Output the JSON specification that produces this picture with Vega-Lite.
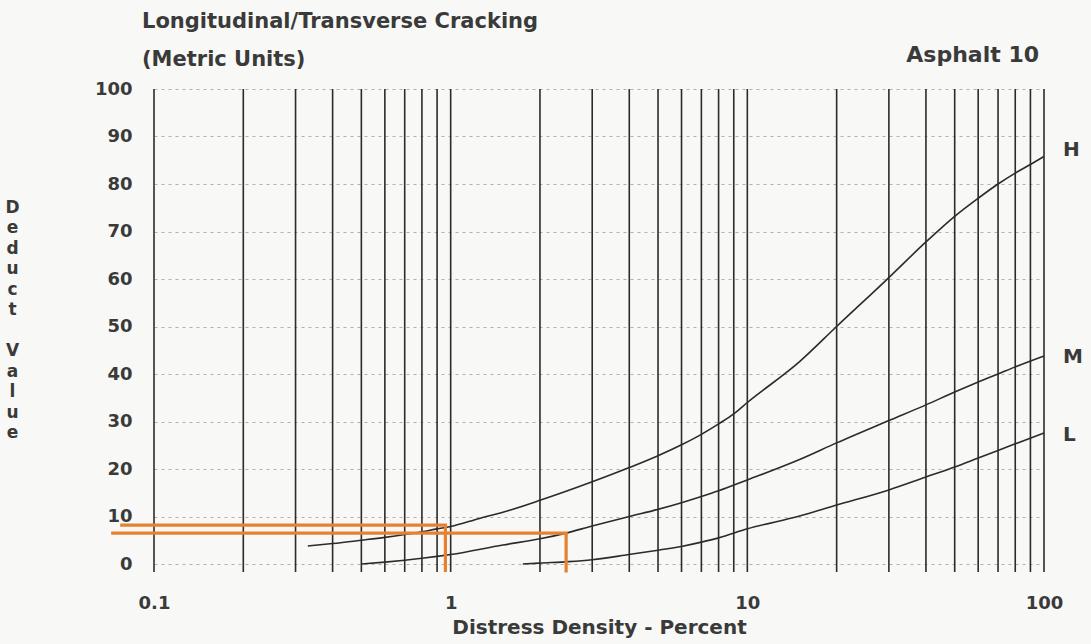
{
  "$schema": "https://vega.github.io/schema/vega-lite/v6.json",
  "width": 890,
  "height": 475,
  "autosize": {"type": "none"},
  "padding": {"left": 154, "top": 89, "right": 47, "bottom": 80},
  "background": "#f8f8f6",
  "config": {
    "view": {"stroke": null},
    "font": "DejaVu Sans",
    "axisX": {
      "grid": false,
      "domain": false,
      "ticks": false,
      "labelFont": "DejaVu Sans",
      "labelFontWeight": "bold",
      "labelFontSize": 18,
      "labelColor": "#3a3a3a",
      "labelPadding": 30,
      "labelFlush": false,
      "titleFont": "DejaVu Sans",
      "titleFontWeight": "bold",
      "titleFontSize": 20,
      "titleColor": "#3a3a3a",
      "titlePadding": 5
    },
    "axisY": {
      "grid": true,
      "gridDash": [3, 4],
      "gridColor": "#9a9a9a",
      "gridWidth": 1.2,
      "gridOpacity": 0.75,
      "domain": false,
      "ticks": false,
      "labelFont": "DejaVu Sans",
      "labelFontWeight": "bold",
      "labelFontSize": 18,
      "labelColor": "#3a3a3a",
      "labelPadding": 22,
      "titleAngle": 0,
      "titleX": -142,
      "titleY": 118,
      "titleAlign": "center",
      "titleBaseline": "middle",
      "titleLineHeight": 20.5,
      "titleFont": "DejaVu Sans",
      "titleFontWeight": "bold",
      "titleFontSize": 17,
      "titleColor": "#3a3a3a"
    }
  },
  "datasets": {
    "vlines": [
      {"x": 0.1}, {"x": 0.2}, {"x": 0.3}, {"x": 0.4}, {"x": 0.5}, {"x": 0.6}, {"x": 0.7}, {"x": 0.8}, {"x": 0.9},
      {"x": 1}, {"x": 2}, {"x": 3}, {"x": 4}, {"x": 5}, {"x": 6}, {"x": 7}, {"x": 8}, {"x": 9},
      {"x": 10}, {"x": 20}, {"x": 30}, {"x": 40}, {"x": 50}, {"x": 60}, {"x": 70}, {"x": 80}, {"x": 90},
      {"x": 100}
    ],
    "curves": [
      {"s": "H", "x": 0.33, "y": 3.8}, {"s": "H", "x": 0.4, "y": 4.3}, {"s": "H", "x": 0.5, "y": 5.0},
      {"s": "H", "x": 0.6, "y": 5.6}, {"s": "H", "x": 0.7, "y": 6.2}, {"s": "H", "x": 0.8, "y": 6.8},
      {"s": "H", "x": 0.9, "y": 7.4}, {"s": "H", "x": 1, "y": 7.9}, {"s": "H", "x": 1.25, "y": 9.6},
      {"s": "H", "x": 1.5, "y": 10.9}, {"s": "H", "x": 2, "y": 13.4}, {"s": "H", "x": 3, "y": 17.3},
      {"s": "H", "x": 4, "y": 20.3}, {"s": "H", "x": 5, "y": 22.8}, {"s": "H", "x": 6, "y": 25.1},
      {"s": "H", "x": 7, "y": 27.3}, {"s": "H", "x": 8, "y": 29.5}, {"s": "H", "x": 9, "y": 31.6},
      {"s": "H", "x": 10, "y": 34}, {"s": "H", "x": 15, "y": 42.6}, {"s": "H", "x": 20, "y": 50},
      {"s": "H", "x": 30, "y": 60.3}, {"s": "H", "x": 40, "y": 67.8}, {"s": "H", "x": 50, "y": 73.2},
      {"s": "H", "x": 60, "y": 77}, {"s": "H", "x": 70, "y": 80}, {"s": "H", "x": 80, "y": 82.3},
      {"s": "H", "x": 90, "y": 84.1}, {"s": "H", "x": 100, "y": 85.8},
      {"s": "M", "x": 0.5, "y": 0}, {"s": "M", "x": 0.6, "y": 0.4}, {"s": "M", "x": 0.7, "y": 0.8},
      {"s": "M", "x": 0.8, "y": 1.2}, {"s": "M", "x": 0.9, "y": 1.6}, {"s": "M", "x": 1, "y": 2.0},
      {"s": "M", "x": 1.5, "y": 4.0}, {"s": "M", "x": 2, "y": 5.3}, {"s": "M", "x": 2.45, "y": 6.5},
      {"s": "M", "x": 3, "y": 8.0}, {"s": "M", "x": 4, "y": 10}, {"s": "M", "x": 5, "y": 11.5},
      {"s": "M", "x": 6, "y": 12.9}, {"s": "M", "x": 7, "y": 14.2}, {"s": "M", "x": 8, "y": 15.4},
      {"s": "M", "x": 10, "y": 17.7}, {"s": "M", "x": 15, "y": 22}, {"s": "M", "x": 20, "y": 25.5},
      {"s": "M", "x": 30, "y": 30.2}, {"s": "M", "x": 40, "y": 33.5}, {"s": "M", "x": 50, "y": 36.2},
      {"s": "M", "x": 60, "y": 38.3}, {"s": "M", "x": 70, "y": 40}, {"s": "M", "x": 80, "y": 41.5},
      {"s": "M", "x": 100, "y": 43.8},
      {"s": "L", "x": 1.75, "y": 0}, {"s": "L", "x": 2, "y": 0.2}, {"s": "L", "x": 2.5, "y": 0.5},
      {"s": "L", "x": 3, "y": 0.9}, {"s": "L", "x": 4, "y": 2}, {"s": "L", "x": 5, "y": 2.9},
      {"s": "L", "x": 6, "y": 3.7}, {"s": "L", "x": 7, "y": 4.6}, {"s": "L", "x": 8, "y": 5.5},
      {"s": "L", "x": 10, "y": 7.4}, {"s": "L", "x": 15, "y": 10.1}, {"s": "L", "x": 20, "y": 12.4},
      {"s": "L", "x": 30, "y": 15.6}, {"s": "L", "x": 40, "y": 18.3}, {"s": "L", "x": 50, "y": 20.4},
      {"s": "L", "x": 60, "y": 22.3}, {"s": "L", "x": 70, "y": 23.9}, {"s": "L", "x": 80, "y": 25.3},
      {"s": "L", "x": 100, "y": 27.6}
    ],
    "curvelabels": [
      {"s": "H", "y": 87.2},
      {"s": "M", "y": 43.6},
      {"s": "L", "y": 27.2}
    ],
    "reading": [
      {"g": "a", "o": 1, "x": 0.0769, "y": 8.2},
      {"g": "a", "o": 2, "x": 0.96, "y": 8.2},
      {"g": "a", "o": 3, "x": 0.96, "y": -1.7},
      {"g": "b", "o": 1, "x": 0.0717, "y": 6.5},
      {"g": "b", "o": 2, "x": 2.45, "y": 6.5},
      {"g": "b", "o": 3, "x": 2.45, "y": -1.8}
    ]
  },
  "layer": [
    {
      "data": {"name": "vlines"},
      "mark": {"type": "rule", "color": "#2b2b2b", "strokeWidth": 1.6},
      "encoding": {
        "x": {
          "field": "x", "type": "quantitative",
          "scale": {"type": "log", "domain": [0.1, 100], "nice": false},
          "axis": {"values": [0.1, 1, 10, 100], "format": "~g", "title": "Distress Density - Percent"}
        },
        "y": {
          "datum": -1.7, "type": "quantitative",
          "scale": {"domain": [0, 100], "nice": false, "zero": false},
          "axis": {"values": [0, 10, 20, 30, 40, 50, 60, 70, 80, 90, 100], "title": ["D", "e", "d", "u", "c", "t", "\u200b", "V", "a", "l", "u", "e"]}
        },
        "y2": {"datum": 100}
      }
    },
    {
      "data": {"name": "curves"},
      "mark": {"type": "line", "color": "#2b2b2b", "strokeWidth": 1.6, "interpolate": "monotone"},
      "encoding": {
        "x": {
          "field": "x", "type": "quantitative",
          "scale": {"type": "log", "domain": [0.1, 100], "nice": false},
          "axis": {"values": [0.1, 1, 10, 100], "format": "~g", "title": "Distress Density - Percent"}
        },
        "y": {
          "field": "y", "type": "quantitative",
          "scale": {"domain": [0, 100], "nice": false, "zero": false},
          "axis": {"values": [0, 10, 20, 30, 40, 50, 60, 70, 80, 90, 100], "title": ["D", "e", "d", "u", "c", "t", "\u200b", "V", "a", "l", "u", "e"]}
        },
        "detail": {"field": "s"}
      }
    },
    {
      "data": {"name": "curvelabels"},
      "mark": {"type": "text", "align": "left", "baseline": "middle", "dx": 19, "font": "DejaVu Sans", "fontWeight": "bold", "fontSize": 20, "color": "#3a3a3a"},
      "encoding": {
        "x": {
          "datum": 100, "type": "quantitative",
          "scale": {"type": "log", "domain": [0.1, 100], "nice": false},
          "axis": {"values": [0.1, 1, 10, 100], "format": "~g", "title": "Distress Density - Percent"}
        },
        "y": {
          "field": "y", "type": "quantitative",
          "scale": {"domain": [0, 100], "nice": false, "zero": false},
          "axis": {"values": [0, 10, 20, 30, 40, 50, 60, 70, 80, 90, 100], "title": ["D", "e", "d", "u", "c", "t", "\u200b", "V", "a", "l", "u", "e"]}
        },
        "text": {"field": "s"}
      }
    },
    {
      "data": {"name": "reading"},
      "mark": {"type": "line", "color": "#e8812f", "strokeWidth": 3.2},
      "encoding": {
        "x": {
          "field": "x", "type": "quantitative",
          "scale": {"type": "log", "domain": [0.1, 100], "nice": false},
          "axis": {"values": [0.1, 1, 10, 100], "format": "~g", "title": "Distress Density - Percent"}
        },
        "y": {
          "field": "y", "type": "quantitative",
          "scale": {"domain": [0, 100], "nice": false, "zero": false},
          "axis": {"values": [0, 10, 20, 30, 40, 50, 60, 70, 80, 90, 100], "title": ["D", "e", "d", "u", "c", "t", "\u200b", "V", "a", "l", "u", "e"]}
        },
        "detail": {"field": "g"},
        "order": {"field": "o"}
      }
    },
    {
      "data": {"values": [{"t": "Asphalt 10"}]},
      "mark": {"type": "text", "align": "right", "baseline": "alphabetic", "dx": -5, "font": "DejaVu Sans", "fontWeight": "bold", "fontSize": 22, "color": "#3a3a3a"},
      "encoding": {
        "x": {
          "datum": 100, "type": "quantitative",
          "scale": {"type": "log", "domain": [0.1, 100], "nice": false},
          "axis": {"values": [0.1, 1, 10, 100], "format": "~g", "title": "Distress Density - Percent"}
        },
        "y": {
          "datum": 105.7, "type": "quantitative",
          "scale": {"domain": [0, 100], "nice": false, "zero": false},
          "axis": {"values": [0, 10, 20, 30, 40, 50, 60, 70, 80, 90, 100], "title": ["D", "e", "d", "u", "c", "t", "\u200b", "V", "a", "l", "u", "e"]}
        },
        "text": {"field": "t"}
      }
    },
    {
      "data": {"values": [{"t": ["Longitudinal/Transverse Cracking", "(Metric Units)"]}]},
      "mark": {"type": "text", "align": "left", "baseline": "alphabetic", "dx": -12, "lineHeight": 38, "font": "DejaVu Sans", "fontWeight": "bold", "fontSize": 21, "color": "#3a3a3a"},
      "encoding": {
        "x": {
          "datum": 0.1, "type": "quantitative",
          "scale": {"type": "log", "domain": [0.1, 100], "nice": false},
          "axis": {"values": [0.1, 1, 10, 100], "format": "~g", "title": "Distress Density - Percent"}
        },
        "y": {
          "datum": 112.8, "type": "quantitative",
          "scale": {"domain": [0, 100], "nice": false, "zero": false},
          "axis": {"values": [0, 10, 20, 30, 40, 50, 60, 70, 80, 90, 100], "title": ["D", "e", "d", "u", "c", "t", "\u200b", "V", "a", "l", "u", "e"]}
        },
        "text": {"field": "t"}
      }
    }
  ]
}
